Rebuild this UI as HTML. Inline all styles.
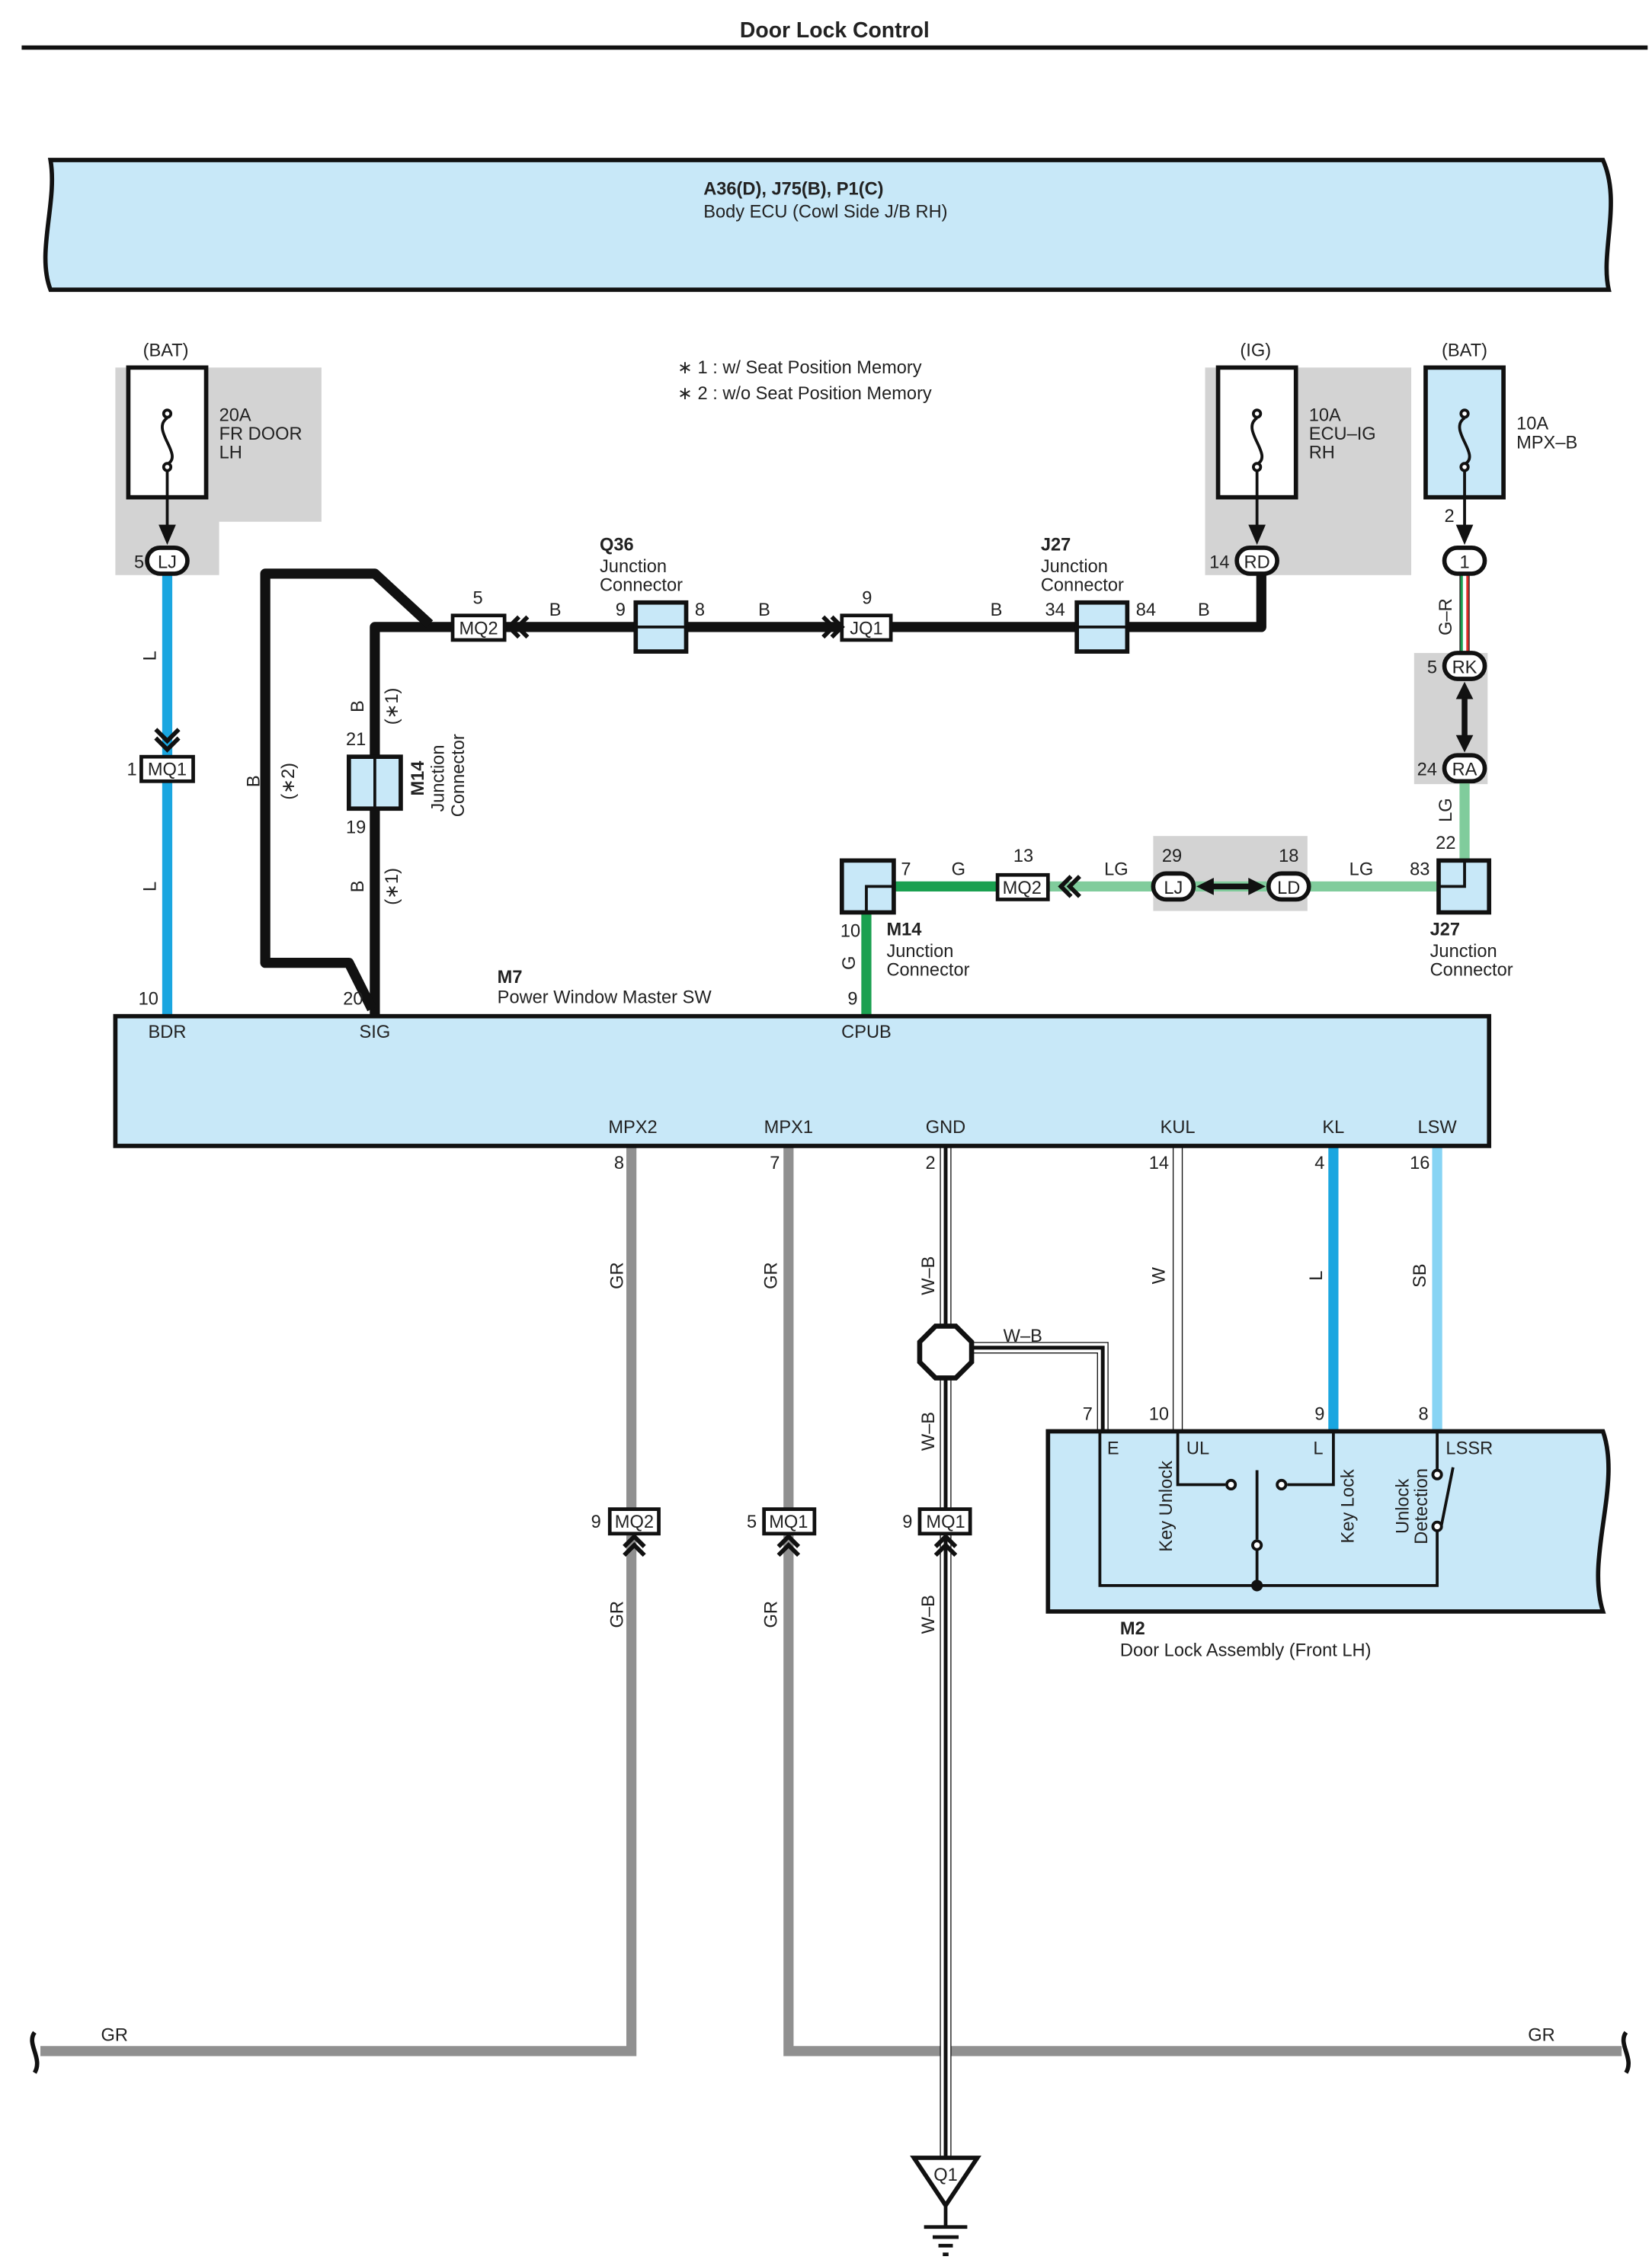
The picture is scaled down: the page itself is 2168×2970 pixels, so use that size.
<!DOCTYPE html>
<html><head><meta charset="utf-8"><style>
html,body{margin:0;padding:0;background:#fff}
svg{display:block}
text{font-family:"Liberation Sans Narrow","Liberation Sans",sans-serif;font-size:12.5px;fill:#222}
.b{font-weight:bold}
</style></head><body>
<svg width="2168" height="2970" viewBox="0 0 1146 1570" xmlns="http://www.w3.org/2000/svg">
<defs>
<g id="chev"><path d="M-8,-6 L0,2 L8,-6 M-8,0 L0,8 L8,0" fill="none" stroke="#111" stroke-width="3"/></g>
</defs>
<text x="579" y="26" text-anchor="middle" class="b" style="font-size:15px">Door Lock Control</text>
<line x1="15" y1="33" x2="1143" y2="33" stroke="#111" stroke-width="3"/>

<path d="M35,111 L1112,111 C1125,140 1110,175 1116,201 L35,201 C25,175 40,140 35,111 Z" fill="#c8e8f8" stroke="#111" stroke-width="3"/>
<text x="488" y="135" class="b">A36(D), J75(B), P1(C)</text>
<text x="488" y="151">Body ECU (Cowl Side J/B RH)</text>

<path d="M80,255 H223 V362 H152 V399 H80 Z" fill="#d3d3d3"/>
<rect x="836" y="255" width="143" height="144" fill="#d3d3d3"/>
<rect x="981" y="453" width="51" height="91" fill="#d3d3d3"/>
<rect x="800" y="580" width="107" height="52" fill="#d3d3d3"/>

<g stroke="#111" stroke-width="3">
<rect x="89" y="255" width="54" height="90" fill="#fff"/>
<rect x="845" y="255" width="54" height="90" fill="#fff"/>
<rect x="989" y="255" width="54" height="90" fill="#c8e8f8"/>
</g>
<g fill="none" stroke="#111" stroke-width="2">
<path d="M116,290 C104,298 128,316 116,322"/><circle cx="116" cy="287" r="2.5" fill="#fff"/><circle cx="116" cy="324" r="2.5" fill="#fff"/>
<path d="M872,290 C860,298 884,316 872,322"/><circle cx="872" cy="287" r="2.5" fill="#fff"/><circle cx="872" cy="324" r="2.5" fill="#fff"/>
<path d="M1016,290 C1004,298 1028,316 1016,322"/><circle cx="1016" cy="287" r="2.5" fill="#fff"/><circle cx="1016" cy="324" r="2.5" fill="#fff"/>
<line x1="116" y1="327" x2="116" y2="370"/><line x1="872" y1="327" x2="872" y2="370"/><line x1="1016" y1="327" x2="1016" y2="370"/>
</g>
<g fill="#111"><path d="M110,364 L122,364 L116,378 Z"/><path d="M866,364 L878,364 L872,378 Z"/><path d="M1010,364 L1022,364 L1016,378 Z"/></g>
<text x="115" y="247" text-anchor="middle">(BAT)</text>
<text x="152" y="292">20A</text><text x="152" y="305">FR DOOR</text><text x="152" y="318">LH</text>
<text x="871" y="247" text-anchor="middle">(IG)</text>
<text x="908" y="292">10A</text><text x="908" y="305">ECU–IG</text><text x="908" y="318">RH</text>
<text x="1016" y="247" text-anchor="middle">(BAT)</text>
<text x="1052" y="298">10A</text><text x="1052" y="311">MPX–B</text>
<text x="1002" y="362">2</text>
<text x="470" y="259">∗ 1 : w/ Seat Position Memory</text>
<text x="470" y="277">∗ 2 : w/o Seat Position Memory</text>

<line x1="116" y1="398" x2="116" y2="705" stroke="#1aa6e0" stroke-width="7"/>
<g fill="none" stroke="#111" stroke-width="7" stroke-linejoin="round">
<path d="M350,435 H260 V705"/>
<path d="M298,433 L260,398 H184 V668 H242 L258,700"/>
<path d="M350,435 H875 V398"/>
</g>
<line x1="1016" y1="398" x2="1016" y2="455" stroke="#111" stroke-width="7"/>
<line x1="1016" y1="398" x2="1016" y2="455" stroke="#fff" stroke-width="5.5"/>
<line x1="1014" y1="398" x2="1014" y2="455" stroke="#1aa050" stroke-width="1.6"/>
<line x1="1018" y1="398" x2="1018" y2="455" stroke="#e0302a" stroke-width="1.6"/>
<path d="M1016,541 V598" stroke="#80cc9c" stroke-width="7"/>
<path d="M728,615 H998" stroke="#80cc9c" stroke-width="7"/>
<path d="M620,615 H692" stroke="#1aa050" stroke-width="7"/>
<path d="M601,633 V705" stroke="#1aa050" stroke-width="7"/>

<!-- lower wires (drawn before connectors) -->
<g fill="none" stroke-linejoin="miter">
<path d="M438,796 V1423 H28" stroke="#909090" stroke-width="7"/>
<path d="M547,796 V1423 H1125" stroke="#909090" stroke-width="7"/>
<path d="M925,796 V993" stroke="#1aa6e0" stroke-width="7"/>
<path d="M997,796 V993" stroke="#88d4f4" stroke-width="7"/>
<path d="M817,796 V993" stroke="#111" stroke-width="7"/>
<path d="M817,796 V993" stroke="#fff" stroke-width="5.6"/>
<path d="M656,796 V1497" stroke="#111" stroke-width="8"/>
<path d="M656,796 V1497" stroke="#fff" stroke-width="6.6"/>
<path d="M656,796 V1497" stroke="#111" stroke-width="2.6"/>
<path d="M670,935 H765 V993" stroke="#111" stroke-width="8"/>
<path d="M670,935 H765 V993" stroke="#fff" stroke-width="6.6"/>
<path d="M670,935 H765 V993" stroke="#111" stroke-width="2.6"/>
</g>

<g stroke="#111" stroke-width="3" fill="#fff">
<rect x="102" y="380" width="28" height="18" rx="9"/>
<rect x="858" y="380" width="28" height="18" rx="9"/>
<rect x="1002" y="380" width="28" height="18" rx="9"/>
<rect x="1002" y="453" width="28" height="18" rx="9"/>
<rect x="1002" y="524" width="28" height="18" rx="9"/>
<rect x="800" y="606" width="28" height="18" rx="9"/>
<rect x="880" y="606" width="28" height="18" rx="9"/>
</g>
<text x="116" y="394" text-anchor="middle">LJ</text><text x="93" y="394">5</text>
<text x="872" y="394" text-anchor="middle">RD</text><text x="839" y="394">14</text>
<text x="1016" y="394" text-anchor="middle">1</text>
<text x="1016" y="467" text-anchor="middle">RK</text><text x="990" y="467">5</text>
<text x="1016" y="538" text-anchor="middle">RA</text><text x="983" y="538">24</text>
<text x="814" y="620" text-anchor="middle">LJ</text>
<text x="894" y="620" text-anchor="middle">LD</text>
<text x="813" y="598" text-anchor="middle">29</text><text x="894" y="598" text-anchor="middle">18</text>
<g fill="#111"><path d="M1016,473 L1010,485 L1022,485 Z"/><path d="M1016,522 L1010,510 L1022,510 Z"/><rect x="1014" y="484" width="4" height="27"/>
<path d="M830,615 L842,609 L842,621 Z"/><path d="M878,615 L866,609 L866,621 Z"/><rect x="841" y="613" width="26" height="4"/></g>

<g stroke="#111" stroke-width="2.5" fill="#fff">
<rect x="98" y="525" width="36" height="17"/>
<rect x="314" y="427" width="36" height="17"/>
<rect x="584" y="427" width="34" height="17"/>
<rect x="692" y="607" width="35" height="17"/>
<rect x="423" y="1047" width="34" height="17"/>
<rect x="530" y="1047" width="35" height="17"/>
<rect x="638" y="1047" width="35" height="17"/>
</g>
<text x="116" y="538" text-anchor="middle">MQ1</text><text x="88" y="538">1</text>
<text x="332" y="440" text-anchor="middle">MQ2</text><text x="328" y="419">5</text>
<text x="601" y="440" text-anchor="middle">JQ1</text><text x="598" y="419">9</text>
<text x="709" y="620" text-anchor="middle">MQ2</text><text x="703" y="598">13</text>
<text x="440" y="1060" text-anchor="middle">MQ2</text><text x="410" y="1060">9</text>
<text x="547" y="1060" text-anchor="middle">MQ1</text><text x="518" y="1060">5</text>
<text x="656" y="1060" text-anchor="middle">MQ1</text><text x="626" y="1060">9</text>
<use href="#chev" x="116" y="512"/>
<g fill="none" stroke="#111" stroke-width="3">
<path d="M360,428 L353,435 L360,442 M366,428 L359,435 L366,442"/>
<path d="M577,428 L584,435 L577,442 M571,428 L578,435 L571,442"/>
<path d="M743,608 L736,615 L743,622 M749,608 L742,615 L749,622"/>
<path d="M433,1073 L440,1066 L447,1073 M433,1079 L440,1072 L447,1079"/>
<path d="M540,1073 L547,1066 L554,1073 M540,1079 L547,1072 L554,1079"/>
<path d="M649,1073 L656,1066 L663,1073 M649,1079 L656,1072 L663,1079"/>
</g>

<g stroke="#111" stroke-width="3" fill="#c8e8f8">
<rect x="441" y="418" width="35" height="34"/>
<rect x="747" y="418" width="35" height="34"/>
<rect x="242" y="525" width="36" height="36"/>
<rect x="584" y="597" width="36" height="36"/>
<rect x="998" y="597" width="35" height="36"/>
</g>
<g stroke="#111" stroke-width="2" fill="none">
<line x1="441" y1="435" x2="476" y2="435"/><line x1="747" y1="435" x2="782" y2="435"/>
<line x1="260" y1="525" x2="260" y2="561"/>
<path d="M601,633 V615 H620"/><path d="M1016,597 V615 H998"/>
</g>
<text x="416" y="382" class="b">Q36</text><text x="416" y="397">Junction</text><text x="416" y="410">Connector</text>
<text x="427" y="427">9</text><text x="482" y="427">8</text>
<text x="722" y="382" class="b">J27</text><text x="722" y="397">Junction</text><text x="722" y="410">Connector</text>
<text x="725" y="427">34</text><text x="788" y="427">84</text>
<text x="381" y="427">B</text><text x="526" y="427">B</text><text x="687" y="427">B</text><text x="831" y="427">B</text>
<text x="240" y="517">21</text><text x="240" y="578">19</text>
<text x="992" y="649" class="b">J27</text><text x="992" y="664">Junction</text><text x="992" y="677">Connector</text>
<text x="978" y="607">83</text><text x="996" y="589">22</text>
<text x="766" y="607">LG</text><text x="936" y="607">LG</text><text x="660" y="607">G</text><text x="625" y="607">7</text>
<text x="615" y="649" class="b">M14</text><text x="615" y="664">Junction</text><text x="615" y="677">Connector</text>
<text x="583" y="650">10</text><text x="588" y="697">9</text>
<text x="345" y="682" class="b">M7</text><text x="345" y="696">Power Window Master SW</text>
<text x="96" y="697">10</text><text x="238" y="697">20</text>

<g>
<text transform="translate(108,455) rotate(-90)" text-anchor="middle">L</text>
<text transform="translate(108,615) rotate(-90)" text-anchor="middle">L</text>
<text transform="translate(252,490) rotate(-90)" text-anchor="middle">B</text>
<text transform="translate(252,615) rotate(-90)" text-anchor="middle">B</text>
<text transform="translate(276,490) rotate(-90)" text-anchor="middle">(∗1)</text>
<text transform="translate(276,615) rotate(-90)" text-anchor="middle">(∗1)</text>
<text transform="translate(180,542) rotate(-90)" text-anchor="middle">B</text>
<text transform="translate(204,542) rotate(-90)" text-anchor="middle">(∗2)</text>
<text transform="translate(294,540) rotate(-90)" text-anchor="middle" class="b">M14</text>
<text transform="translate(308,540) rotate(-90)" text-anchor="middle">Junction</text>
<text transform="translate(322,538) rotate(-90)" text-anchor="middle">Connector</text>
<text transform="translate(1007,428) rotate(-90)" text-anchor="middle">G–R</text>
<text transform="translate(1007,562) rotate(-90)" text-anchor="middle">LG</text>
<text transform="translate(593,668) rotate(-90)" text-anchor="middle">G</text>
<text transform="translate(432,885) rotate(-90)" text-anchor="middle">GR</text>
<text transform="translate(539,885) rotate(-90)" text-anchor="middle">GR</text>
<text transform="translate(648,885) rotate(-90)" text-anchor="middle">W–B</text>
<text transform="translate(808,885) rotate(-90)" text-anchor="middle">W</text>
<text transform="translate(917,885) rotate(-90)" text-anchor="middle">L</text>
<text transform="translate(989,885) rotate(-90)" text-anchor="middle">SB</text>
<text transform="translate(648,993) rotate(-90)" text-anchor="middle">W–B</text>
<text transform="translate(432,1120) rotate(-90)" text-anchor="middle">GR</text>
<text transform="translate(539,1120) rotate(-90)" text-anchor="middle">GR</text>
<text transform="translate(648,1120) rotate(-90)" text-anchor="middle">W–B</text>
</g>

<rect x="80" y="705" width="953" height="90" fill="#c8e8f8" stroke="#111" stroke-width="3"/>
<text x="116" y="720" text-anchor="middle">BDR</text>
<text x="260" y="720" text-anchor="middle">SIG</text>
<text x="601" y="720" text-anchor="middle">CPUB</text>
<text x="439" y="786" text-anchor="middle">MPX2</text>
<text x="547" y="786" text-anchor="middle">MPX1</text>
<text x="656" y="786" text-anchor="middle">GND</text>
<text x="817" y="786" text-anchor="middle">KUL</text>
<text x="925" y="786" text-anchor="middle">KL</text>
<text x="997" y="786" text-anchor="middle">LSW</text>
<text x="426" y="811">8</text><text x="534" y="811">7</text><text x="642" y="811">2</text>
<text x="797" y="811">14</text><text x="912" y="811">4</text><text x="978" y="811">16</text>

<path d="M24,1410 C18,1418 30,1428 24,1438" fill="none" stroke="#111" stroke-width="3"/>
<path d="M1128,1410 C1122,1418 1134,1428 1128,1438" fill="none" stroke="#111" stroke-width="3"/>
<text x="70" y="1416">GR</text><text x="1060" y="1416">GR</text>
<polygon points="649,920 663,920 674,931 674,945 663,956 649,956 638,945 638,931" fill="#fff" stroke="#111" stroke-width="3.5"/>
<text x="696" y="931">W–B</text>
<text x="751" y="985">7</text><text x="797" y="985">10</text><text x="912" y="985">9</text><text x="984" y="985">8</text>

<polygon points="634,1497 678,1497 656,1530" fill="#fff" stroke="#111" stroke-width="3"/>
<text x="656" y="1513" text-anchor="middle">Q1</text>
<g stroke="#111" stroke-width="2.5"><line x1="656" y1="1530" x2="656" y2="1545"/><line x1="641" y1="1545" x2="671" y2="1545"/><line x1="647" y1="1552" x2="665" y2="1552"/><line x1="651" y1="1558" x2="661" y2="1558"/><line x1="654" y1="1564" x2="658" y2="1564"/></g>

<path d="M727,993 H1112 C1125,1030 1100,1080 1112,1118 H727 Z" fill="#c8e8f8" stroke="#111" stroke-width="3"/>
<g fill="none" stroke="#111" stroke-width="2">
<path d="M763,993 V1100 H997 V1062"/>
<path d="M817,993 V1030 H850"/>
<path d="M925,993 V1030 H893"/>
<line x1="872" y1="1075" x2="872" y2="1100"/>
<line x1="872" y1="1020" x2="872" y2="1068"/>
<path d="M997,993 V1020"/>
<line x1="1000" y1="1058" x2="1008" y2="1018"/>
</g>
<g fill="#fff" stroke="#111" stroke-width="2">
<circle cx="854" cy="1030" r="3"/><circle cx="889" cy="1030" r="3"/><circle cx="872" cy="1072" r="3"/>
<circle cx="997" cy="1023" r="3"/><circle cx="997" cy="1059" r="3"/>
</g>
<circle cx="872" cy="1100" r="4" fill="#111"/>
<text x="768" y="1009">E</text><text x="823" y="1009">UL</text><text x="911" y="1009">L</text><text x="1003" y="1009">LSSR</text>
<text transform="translate(813,1045) rotate(-90)" text-anchor="middle">Key Unlock</text>
<text transform="translate(939,1045) rotate(-90)" text-anchor="middle">Key Lock</text>
<text transform="translate(977,1045) rotate(-90)" text-anchor="middle">Unlock</text>
<text transform="translate(990,1045) rotate(-90)" text-anchor="middle">Detection</text>
<text x="777" y="1134" class="b">M2</text>
<text x="777" y="1149">Door Lock Assembly (Front LH)</text>
</svg>
</body></html>
